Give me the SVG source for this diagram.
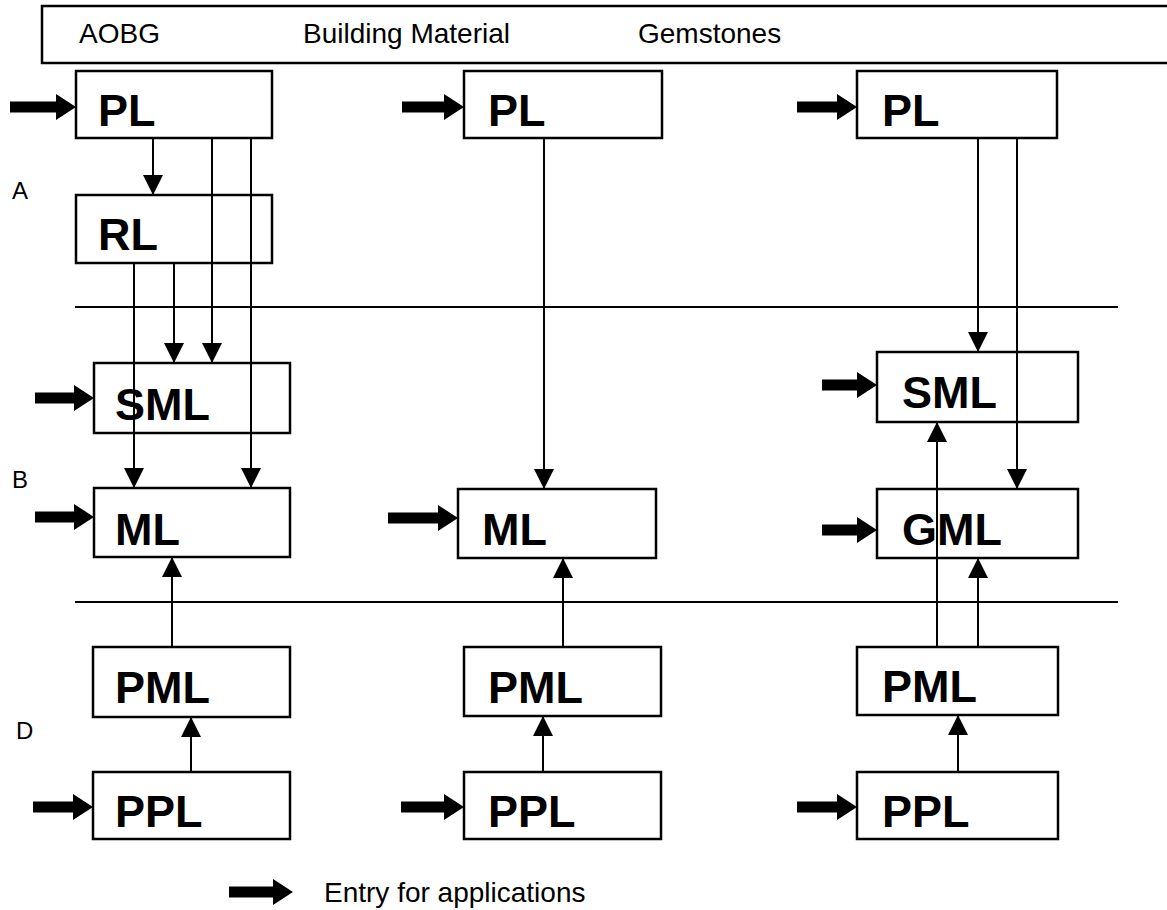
<svg xmlns="http://www.w3.org/2000/svg" width="1167" height="910" viewBox="0 0 1167 910">
<style>
.box{fill:#fff;stroke:#000;stroke-width:2.5}
.lbl{font-family:"Liberation Sans",Arial,sans-serif;font-weight:bold;font-size:45px;fill:#000}
.hdr{font-family:"Liberation Sans",Arial,sans-serif;font-size:28px;fill:#000}
.side{font-family:"Liberation Sans",Arial,sans-serif;font-size:24px;fill:#000}
.sep{stroke:#000;stroke-width:2;fill:none}
.con{stroke:#000;stroke-width:2;fill:none;marker-end:url(#ah)}
.entry{fill:#000;stroke:none}
</style>
<defs>
<marker id="ah" markerUnits="userSpaceOnUse" viewBox="0 0 20 20" markerWidth="20" markerHeight="20" refX="20" refY="10" orient="auto">
<path d="M0,0 L20,10 L0,20 Z" fill="#000"/>
</marker>
</defs>
<rect width="1167" height="910" fill="#fff"/>
<g id="header">
<rect x="42" y="6" width="1140" height="57" fill="#fff" stroke="#000" stroke-width="2.5"/>
<text class="hdr" x="79" y="43">AOBG</text>
<text class="hdr" x="303" y="43">Building Material</text>
<text class="hdr" x="638" y="43">Gemstones</text>
</g>
<g id="levels">
<text class="side" x="12" y="199">A</text>
<text class="side" x="12" y="488">B</text>
<text class="side" x="16" y="739">D</text>
<line class="sep" x1="75" y1="307" x2="1118" y2="307"/>
<line class="sep" x1="75" y1="602" x2="1118" y2="602"/>
</g>
<g id="col1-PL"><rect class="box" x="76" y="71" width="196" height="67"/><text class="lbl" x="98" y="126">PL</text></g>
<g id="col1-RL"><rect class="box" x="76" y="195" width="196" height="68"/><text class="lbl" x="98" y="250">RL</text></g>
<g id="col1-SML"><rect class="box" x="94" y="363" width="196" height="70"/><text class="lbl" x="115" y="420">SML</text></g>
<g id="col1-ML"><rect class="box" x="94" y="488" width="196" height="69"/><text class="lbl" x="115" y="545">ML</text></g>
<g id="col1-PML"><rect class="box" x="93" y="647" width="197" height="70"/><text class="lbl" x="115" y="703">PML</text></g>
<g id="col1-PPL"><rect class="box" x="93" y="772" width="197" height="67"/><text class="lbl" x="115" y="827">PPL</text></g>
<g id="col2-PL"><rect class="box" x="464" y="71" width="198" height="67"/><text class="lbl" x="488" y="126">PL</text></g>
<g id="col2-ML"><rect class="box" x="458" y="489" width="198" height="69"/><text class="lbl" x="482" y="545">ML</text></g>
<g id="col2-PML"><rect class="box" x="464" y="647" width="197" height="69"/><text class="lbl" x="488" y="703">PML</text></g>
<g id="col2-PPL"><rect class="box" x="464" y="772" width="197" height="67"/><text class="lbl" x="488" y="827">PPL</text></g>
<g id="col3-PL"><rect class="box" x="857" y="71" width="200" height="67"/><text class="lbl" x="882" y="126">PL</text></g>
<g id="col3-SML"><rect class="box" x="877" y="352" width="201" height="70"/><text class="lbl" x="902" y="408">SML</text></g>
<g id="col3-GML"><rect class="box" x="877" y="489" width="201" height="69"/><text class="lbl" x="902" y="545">GML</text></g>
<g id="col3-PML"><rect class="box" x="857" y="647" width="201" height="68"/><text class="lbl" x="882" y="702">PML</text></g>
<g id="col3-PPL"><rect class="box" x="857" y="772" width="201" height="67"/><text class="lbl" x="882" y="827">PPL</text></g>
<g id="connectors">
<line class="con" x1="153" y1="138" x2="153" y2="195"/>
<line class="con" x1="212" y1="138" x2="212" y2="363"/>
<line class="con" x1="251" y1="138" x2="251" y2="488"/>
<line class="con" x1="134" y1="263" x2="134" y2="488"/>
<line class="con" x1="174" y1="263" x2="174" y2="363"/>
<line class="con" x1="172" y1="647" x2="172" y2="557"/>
<line class="con" x1="191" y1="772" x2="191" y2="717"/>
<line class="con" x1="544" y1="138" x2="544" y2="489"/>
<line class="con" x1="563" y1="647" x2="563" y2="558"/>
<line class="con" x1="543" y1="772" x2="543" y2="716"/>
<line class="con" x1="978" y1="138" x2="978" y2="352"/>
<line class="con" x1="1017" y1="138" x2="1017" y2="489"/>
<line class="con" x1="937" y1="647" x2="937" y2="422"/>
<line class="con" x1="978" y1="647" x2="978" y2="558"/>
<line class="con" x1="958" y1="772" x2="958" y2="715"/>
</g>
<g id="entries">
<path class="entry" d="M10,101.5 H56 V94 L76,107 L56,120 V112.5 H10 Z"/>
<path class="entry" d="M35,392.5 H74 V385 L94,398 L74,411 V403.5 H35 Z"/>
<path class="entry" d="M35,511.5 H74 V504 L94,517 L74,530 V522.5 H35 Z"/>
<path class="entry" d="M33,801.5 H73 V794 L93,807 L73,820 V812.5 H33 Z"/>
<path class="entry" d="M402,101.5 H444 V94 L464,107 L444,120 V112.5 H402 Z"/>
<path class="entry" d="M388,512.5 H438 V505 L458,518 L438,531 V523.5 H388 Z"/>
<path class="entry" d="M401,801.5 H444 V794 L464,807 L444,820 V812.5 H401 Z"/>
<path class="entry" d="M797,101.5 H837 V94 L857,107 L837,120 V112.5 H797 Z"/>
<path class="entry" d="M822,379.5 H857 V372 L877,385 L857,398 V390.5 H822 Z"/>
<path class="entry" d="M822,524.5 H857 V517 L877,530 L857,543 V535.5 H822 Z"/>
<path class="entry" d="M797,801.5 H837 V794 L857,807 L837,820 V812.5 H797 Z"/>
</g>
<g id="legend">
<path class="entry" d="M229,886.5 H273 V879 L293,892 L273,905 V897.5 H229 Z"/>
<text class="hdr" x="324" y="902">Entry for applications</text>
</g>
</svg>
